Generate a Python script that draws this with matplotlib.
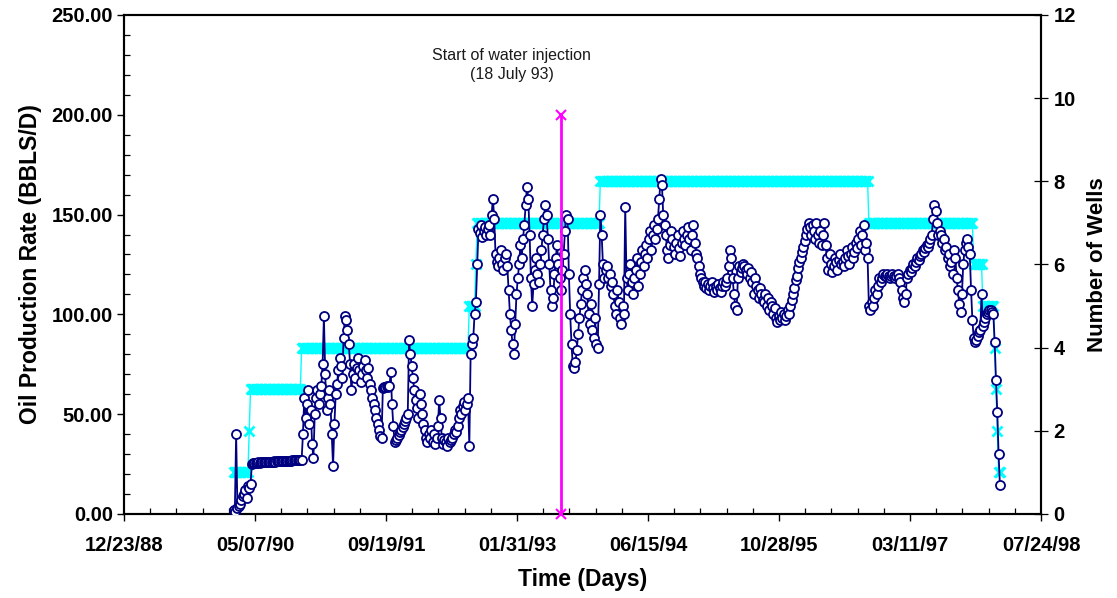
'''
Oil production rate and number of producing wells, 1990-1998,
with the start of water injection marked.
'''
import datetime
import numpy as np
import matplotlib
matplotlib.use("Agg")
import matplotlib.pyplot as plt
import matplotlib.dates as mdates
from matplotlib.ticker import MultipleLocator, FormatStrFormatter, FixedLocator


AXIS_START = datetime.date(1988, 12, 23)
AXIS_DAYS = 3500
FIRST_RECORD = datetime.date(1990, 2, 14)
RECORD_STEP = 5  # days between records

# oil rate (BBLS/D), one value per record
oil_rate = [
    2, 1, 40, 3, 4, 5, 7, 9, 10, 12, 8, 14, 13, 15, 25,
    25.4, 25.6, 25.5, 25.7, 25.8, 25.7, 25.9, 25.8, 26.0, 25.9, 26.1, 26.0, 26.2, 26.1, 26.2,
    26.2, 26.3, 26.2, 26.4, 26.3, 26.4, 26.5, 26.4, 26.5, 26.6, 26.5, 26.6, 26.7, 26.6, 26.7,
    26.8, 26.9, 26.8, 27.0, 26.9, 27.0, 27.1, 27.2, 40, 58, 48, 55, 62, 45, 52,
    35, 28, 50, 58, 62, 55, 60, 64, 75, 99, 70, 52, 58, 62, 55,
    40, 24, 45, 60, 65, 72, 78, 74, 68, 88, 99, 97, 92, 85, 75,
    62, 70, 75, 68, 73, 78, 72, 66, 70, 74, 77, 72, 68, 73, 65,
    62, 58, 55, 52, 48, 45, 42, 39, 38, 63, 63.5, 63.5, 64, 63.5, 64,
    71, 55, 44, 36, 37, 38, 39.5, 41, 42, 43.5, 45, 46.5, 48, 50, 87,
    80, 74, 68, 62, 57, 53, 48, 60, 55, 50, 45, 42, 38, 36, 40,
    38, 42, 36, 40, 35, 38, 44, 57, 48, 38, 35, 37, 36, 34, 38,
    36, 37, 38, 40, 42, 41, 44, 48, 52, 50, 54, 56, 52, 55, 58,
    34, 80, 85, 88, 100, 106, 125, 143, 141, 145, 139, 142, 144, 140, 143,
    145, 140, 150, 158, 148, 130, 126, 124, 128, 132, 125, 122, 128, 130, 124,
    112, 100, 92, 85, 80, 95, 110, 118, 125, 135, 128, 138, 145, 155, 164,
    158, 140, 118, 104, 115, 122, 128, 120, 116, 125, 132, 140, 148, 155, 150,
    138, 125, 112, 104, 108, 120, 128, 135, 125, 118, 112, 122, 130, 142, 150,
    148, 120, 100, 85, 74, 73, 76, 82, 90, 98, 105, 112, 118, 122, 115,
    110, 100, 95, 105, 92, 88, 98, 85, 83, 115, 150, 140, 125, 118, 122,
    124, 118, 120, 114, 116, 110, 104, 100, 112, 106, 98, 95, 104, 100, 154,
    118, 112, 120, 125, 116, 110, 118, 122, 128, 114, 120, 126, 132, 124, 130,
    135, 128, 138, 142, 132, 140, 145, 138, 143, 148, 158, 168, 165, 150, 145,
    140, 132, 128, 135, 142, 138, 134, 130, 136, 140, 133, 129, 136, 142, 138,
    135, 140, 144, 138, 132, 140, 145, 136, 130, 128, 124, 120, 118, 116, 114,
    116, 113, 115, 112, 114, 116, 113, 111, 114, 112, 115, 113, 111, 114, 116,
    114, 116, 118, 124, 132, 128, 118, 110, 104, 102, 118, 124, 121, 123, 125,
    124, 122, 120, 123, 118, 121, 116, 110, 118, 114, 112, 108, 113, 110, 107,
    106, 110, 104, 108, 102, 106, 104, 100, 103, 98, 96, 99, 97, 101, 98,
    100, 97, 99, 102, 100, 104, 107, 110, 113, 117, 119, 123, 126, 128, 131,
    134, 137, 140, 143, 146, 144, 140, 145, 142, 138, 146, 140, 136, 142, 135,
    140, 146, 135, 128, 122, 130, 125, 121, 124, 128, 126, 122, 127, 130, 125,
    126, 124, 128, 132, 129, 125, 130, 134, 128, 131, 136, 133, 138, 142, 135,
    140, 145, 132, 136, 128, 104, 102, 106, 104, 108, 112, 110, 114, 118, 116,
    118, 120, 119, 119, 120, 119, 118, 119, 120, 119, 118, 119, 120, 118, 116,
    112, 108, 106, 110, 118, 120, 122, 121, 123, 125, 124, 126, 128, 127, 129,
    130, 132, 131, 133, 135, 134, 136, 138, 140, 148, 155, 152, 146, 140, 142,
    140, 136, 138, 132, 134, 128, 130, 124, 126, 120, 132, 128, 118, 112, 105,
    101, 110, 125, 132, 136, 138, 134, 130, 112, 97, 88, 86, 87, 89, 91,
    92, 110, 94, 96, 98, 100, 101, 102, 102, 101, 100, 86, 67, 51, 30,
    14.5,
]

# wells on production: count and how many records it held for
well_count = [1, 2, 3, 4, 5, 6, 7, 8, 7, 6, 5, 4, 3, 2, 1]
well_records = [12, 1, 39, 128, 5, 1, 94, 205, 80, 7, 9, 1, 1, 1, 2]

INJECTION_DATE = datetime.date(1993, 7, 18)
INJECTION_RANGE = [0, 200]
INJECTION_TEXT = "Start of water injection\n(18 July 93)"

OUT_PATH = "out.png"

NAVY = "#000080"
CYAN = "#00FFFF"
MAGENTA = "#FF00FF"


def chart(dates, oil, wells, opath):
    fig = plt.figure(figsize=(11.17, 5.98), dpi=100)
    fig.subplots_adjust(left=0.111, right=0.932, top=0.975, bottom=0.1405)
    ax = fig.add_subplot(111)
    ax2 = ax.twinx()
    # oil series sits above the wells band
    ax.set_zorder(ax2.get_zorder() + 1)
    ax.patch.set_visible(False)

    ax2.plot(dates, wells, color=CYAN, lw=1.0, marker="x", ms=7.5, mew=2.0,
             mec=CYAN, zorder=2)

    ax.plot(dates, oil, color=NAVY, lw=1.3, marker="o", ms=6.5, mew=1.3,
            mfc="white", mec=NAVY, zorder=3)

    ax.plot([INJECTION_DATE, INJECTION_DATE], INJECTION_RANGE, color=MAGENTA,
            lw=2.0, marker="x", ms=7, mew=1.5, zorder=5, clip_on=False)
    ax.text(datetime.date(1993, 1, 11), 225, INJECTION_TEXT, ha="center",
            va="center", fontsize=11.5, linespacing=1.3, color="#1a1a1a")

    # x axis: 500 day major / 100 day minor ticks
    x0 = mdates.date2num(AXIS_START)
    ax.set_xlim(x0, x0 + AXIS_DAYS)
    ax.xaxis.set_major_locator(FixedLocator(np.arange(x0, x0 + AXIS_DAYS + 1, 500)))
    ax.xaxis.set_minor_locator(FixedLocator(np.arange(x0, x0 + AXIS_DAYS + 1, 100)))
    ax.xaxis.set_major_formatter(mdates.DateFormatter("%m/%d/%y"))

    ax.set_ylim(0, 250)
    ax.yaxis.set_major_locator(MultipleLocator(50))
    ax.yaxis.set_minor_locator(MultipleLocator(10))
    ax.yaxis.set_major_formatter(FormatStrFormatter("%.2f"))

    ax2.set_ylim(0, 12)
    ax2.yaxis.set_major_locator(MultipleLocator(2))

    ax.tick_params(which="major", direction="out", length=5, width=1.0,
                   labelsize=14.5)
    ax.tick_params(which="minor", direction="in", length=4, width=0.9)
    ax.tick_params(axis="x", which="major", pad=11)
    ax.tick_params(axis="y", which="major", pad=3)
    ax2.tick_params(which="major", direction="inout", length=10, width=0.9,
                    labelsize=14.5, pad=4)

    for a in (ax, ax2):
        for sp in a.spines.values():
            sp.set_linewidth(1.5)
        for lbl in a.get_xticklabels() + a.get_yticklabels():
            lbl.set_fontweight("bold")

    ax.set_xlabel("Time (Days)", fontsize=16.5, fontweight="bold", labelpad=9)
    ax.set_ylabel("Oil Production Rate (BBLS/D)", fontsize=16.5,
                  fontweight="bold", labelpad=7)
    ax2.set_ylabel("Number of Wells", fontsize=16, fontweight="bold",
                   rotation=90, labelpad=8)

    plt.savefig(opath, dpi=100)


if __name__ == "__main__":
    plt.rcParams["font.family"] = ["Liberation Sans", "DejaVu Sans"]

    dates = [FIRST_RECORD + datetime.timedelta(days=RECORD_STEP * i)
             for i in range(len(oil_rate))]
    wells = np.repeat(well_count, well_records)

    chart(dates, oil_rate, wells, OUT_PATH)
